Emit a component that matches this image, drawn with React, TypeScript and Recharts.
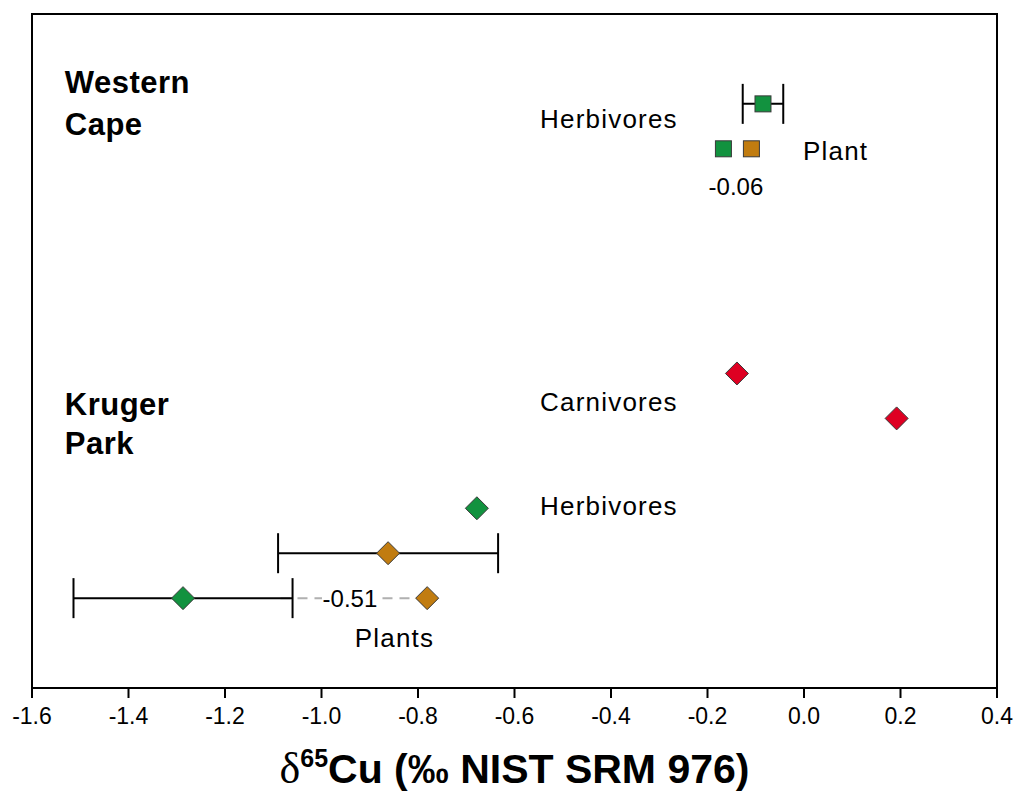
import React from 'react';
import {
  ScatterChart,
  Scatter,
  XAxis,
  YAxis,
  ErrorBar,
  ReferenceLine,
  ReferenceArea,
  Label,
} from 'recharts';

// ---- data ----
const xTicks = [-1.6, -1.4, -1.2, -1.0, -0.8, -0.6, -0.4, -0.2, 0.0, 0.2, 0.4];

// Western Cape (squares)
const wcHerbivores = [{ x: -0.085, y: 13, err: 0.042 }];
const wcPlantGreen = [{ x: -0.167, y: 12 }];
const wcPlantBrown = [{ x: -0.109, y: 12 }];

// Kruger Park (diamonds)
const kpCarnivores = [
  { x: -0.139, y: 7 },
  { x: 0.192, y: 6 },
];
const kpHerbivores = [{ x: -0.678, y: 4 }];
const kpPlantsBrownBar = [{ x: -0.862, y: 3, err: 0.228 }];
const kpPlantsGreenBar = [{ x: -1.287, y: 2, err: 0.227 }];
const kpPlantsBrown = [{ x: -0.781, y: 2 }];

// dashed connector (from green bar end to brown point)
const connector = [
  { x: -1.085, y: 2 },
  { x: -0.781, y: 2 },
];

// text annotations
const annotations = [
  { x: -1.532, y: 13.47, text: 'Western', kind: 'region' },
  { x: -1.532, y: 12.55, text: 'Cape', kind: 'region' },
  { x: -1.532, y: 6.3, text: 'Kruger', kind: 'region' },
  { x: -1.532, y: 5.45, text: 'Park', kind: 'region' },
  { x: -0.547, y: 12.66, text: 'Herbivores', kind: 'group' },
  { x: -0.002, y: 11.95, text: 'Plant', kind: 'group' },
  { x: -0.141, y: 11.17, text: '-0.06', kind: 'value' },
  { x: -0.547, y: 6.37, text: 'Carnivores', kind: 'group' },
  { x: -0.547, y: 4.05, text: 'Herbivores', kind: 'group' },
  { x: -0.931, y: 1.11, text: 'Plants', kind: 'group' },
  { x: -0.941, y: 2, text: '-0.51', kind: 'boxed' },
];

const GREEN = '#12923F';
const BROWN = '#C17C10';
const RED = '#DE0022';
const EDGE = '#3a3a3a';
const FONT = '"Liberation Sans", Arial, sans-serif';

const Square = (props: any) => {
  const { cx, cy, fill } = props;
  const s = 8;
  return <rect x={cx - s} y={cy - s} width={2 * s} height={2 * s} fill={fill} stroke={EDGE} strokeWidth={1} />;
};

const Diamond = (props: any) => {
  const { cx, cy, fill } = props;
  const r = 11.5;
  return (
    <polygon
      points={`${cx},${cy - r} ${cx + r},${cy} ${cx},${cy + r} ${cx - r},${cy}`}
      fill={fill}
      stroke={EDGE}
      strokeWidth={1}
    />
  );
};

const Nothing = () => <g />;

const TextShape = (props: any) => {
  const { cx, cy } = props;
  const p = props.payload || props;
  if (p.kind === 'region') {
    return (
      <text x={cx} y={cy} dominantBaseline="central" textAnchor="start" fontFamily={FONT} fontWeight="bold" fontSize={31} letterSpacing={0.5} fill="#000">
        {p.text}
      </text>
    );
  }
  if (p.kind === 'group') {
    return (
      <text x={cx} y={cy} dominantBaseline="central" textAnchor="start" fontFamily={FONT} fontSize={26} letterSpacing={1.2} fill="#000">
        {p.text}
      </text>
    );
  }
  if (p.kind === 'boxed') {
    return (
      <g>
        <rect x={cx - 28} y={cy - 12} width={56} height={24} fill="#fff" />
        <text x={cx} y={cy} dominantBaseline="central" textAnchor="middle" fontFamily={FONT} fontSize={24} fill="#000">
          {p.text}
        </text>
      </g>
    );
  }
  return (
    <text x={cx} y={cy} dominantBaseline="central" textAnchor="middle" fontFamily={FONT} fontSize={24} fill="#000">
      {p.text}
    </text>
  );
};

const TickLabel = (props: any) => {
  const { x, y, payload } = props;
  return (
    <text x={x} y={y + 24} textAnchor="middle" fontFamily={FONT} fontSize={23} fill="#000">
      {Number(payload.value).toFixed(1)}
    </text>
  );
};

const AxisTitle = (props: any) => {
  const vb = props.viewBox || { x: 32, y: 688, width: 965, height: 90 };
  const cx = vb.x + vb.width / 2;
  const y = vb.y + 95;
  return (
    <text x={cx} y={y} textAnchor="middle" fill="#000" fontFamily={FONT} fontWeight="bold" fontSize={41}>
      <tspan fontFamily='"Liberation Serif", "Times New Roman", serif' fontWeight="normal" fontSize={44}>δ</tspan>
      <tspan fontSize={25} dy={-16}>65</tspan>
      <tspan dy={16}>Cu (‰ NIST SRM 976)</tspan>
    </text>
  );
};

export default function App() {
  return (
    <div style={{ position: 'absolute', left: 0, top: 0, background: '#fff' }}>
      <ScatterChart width={1019} height={796} margin={{ top: 14, right: 22, left: 32, bottom: 18 }}>
        <XAxis
          type="number"
          dataKey="x"
          domain={[-1.6, 0.4]}
          ticks={xTicks}
          allowDataOverflow
          height={90}
          tickSize={10}
          axisLine={{ stroke: '#000', strokeWidth: 2 }}
          tickLine={{ stroke: '#000', strokeWidth: 2 }}
          tick={<TickLabel />}
          interval={0}
        >
          <Label content={<AxisTitle />} position="bottom" />
        </XAxis>
        <YAxis type="number" dataKey="y" domain={[0, 15]} hide allowDataOverflow />
        <ReferenceArea x1={-1.6} x2={0.4} y1={0} y2={15} fill="none" stroke="#000" strokeWidth={2} ifOverflow="visible" />
        <ReferenceLine
          segment={connector}
          stroke="#b0b0b0"
          strokeWidth={2}
          strokeDasharray="10 7"
        />
        <Scatter data={wcHerbivores} shape={Nothing} isAnimationActive={false}>
          <ErrorBar dataKey="err" direction="x" width={20} stroke="#000" strokeWidth={2} isAnimationActive={false} />
        </Scatter>
        <Scatter data={kpPlantsBrownBar} shape={Nothing} isAnimationActive={false}>
          <ErrorBar dataKey="err" direction="x" width={20} stroke="#000" strokeWidth={2} isAnimationActive={false} />
        </Scatter>
        <Scatter data={kpPlantsGreenBar} shape={Nothing} isAnimationActive={false}>
          <ErrorBar dataKey="err" direction="x" width={20} stroke="#000" strokeWidth={2} isAnimationActive={false} />
        </Scatter>
        <Scatter data={annotations} shape={TextShape} isAnimationActive={false} />
        <Scatter data={wcHerbivores} fill={GREEN} shape={Square} isAnimationActive={false} />
        <Scatter data={wcPlantGreen} fill={GREEN} shape={Square} isAnimationActive={false} />
        <Scatter data={wcPlantBrown} fill={BROWN} shape={Square} isAnimationActive={false} />
        <Scatter data={kpCarnivores} fill={RED} shape={Diamond} isAnimationActive={false} />
        <Scatter data={kpHerbivores} fill={GREEN} shape={Diamond} isAnimationActive={false} />
        <Scatter data={kpPlantsBrownBar} fill={BROWN} shape={Diamond} isAnimationActive={false} />
        <Scatter data={kpPlantsGreenBar} fill={GREEN} shape={Diamond} isAnimationActive={false} />
        <Scatter data={kpPlantsBrown} fill={BROWN} shape={Diamond} isAnimationActive={false} />
      </ScatterChart>
    </div>
  );
}
